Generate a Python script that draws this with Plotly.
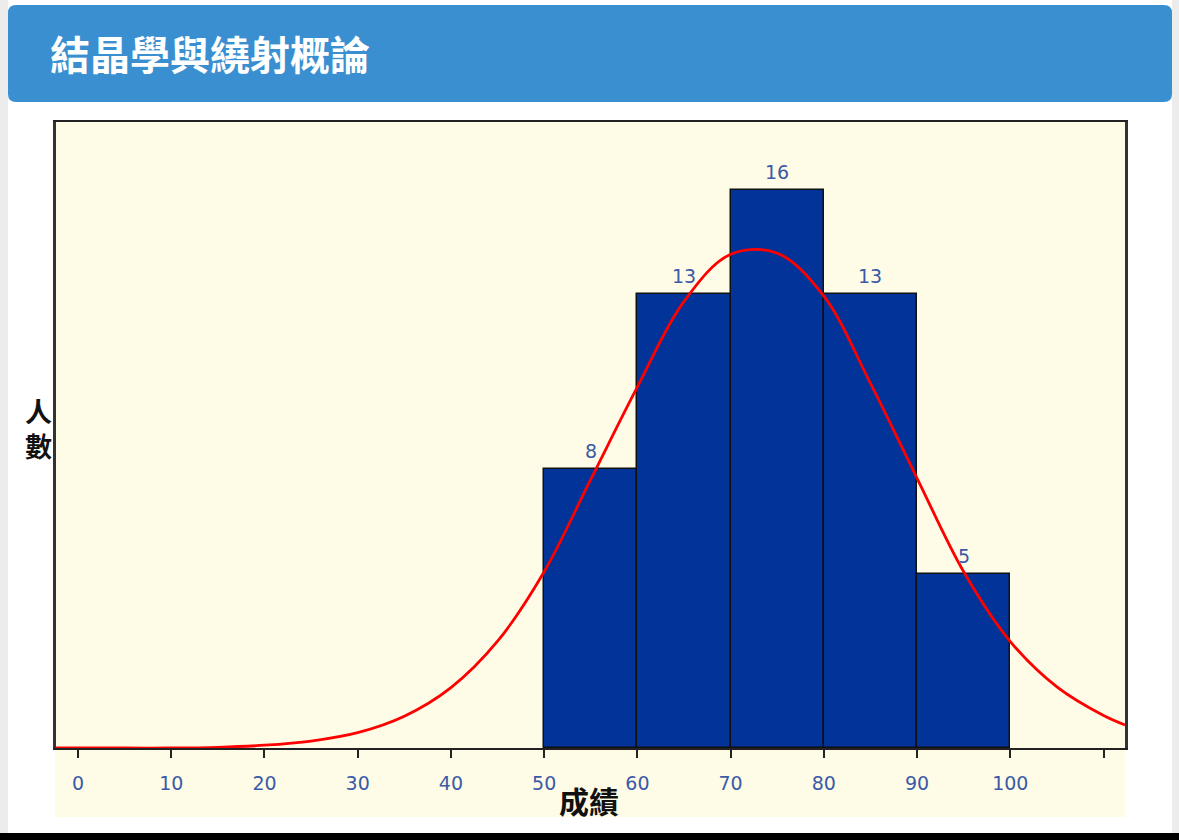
import plotly.graph_objects as go

# ---------------- data ----------------
title_text = "結晶學與繞射概論"
bin_left = [50, 60, 70, 80, 90]
bin_width = 10
counts = [8, 13, 16, 13, 5]

curve_x = [-2.4, 0, 5, 10, 15, 20, 25, 30, 35, 40, 45, 50, 55, 60, 65, 70, 75,
           80, 85, 90, 95, 100, 105, 110, 112.3]
curve_y = [0, 0, 0, 0, 0.02, 0.08, 0.2, 0.44, 0.91, 1.73, 3.06, 5.05, 7.7, 10.35,
           12.8, 14.15, 14.18, 12.95, 10.45, 7.73, 5.05, 3.05, 1.75, 0.93, 0.66]

tick_vals = [0, 10, 20, 30, 40, 50, 60, 70, 80, 90, 100, 110]
tick_text = ["0", "10", "20", "30", "40", "50", "60", "70", "80", "90", "100", ""]

x_title = "成績"
y_title = "人<br>數"

# ---------------- layout constants ----------------
W, H = 1179, 840
L, R, T, B = 56, 54, 122, 92
PW, PH = W - L - R, H - T - B


def px(xp):
    return (xp - L) / PW


def py(yp):
    return (H - B - yp) / PH


CJK = "Noto Sans CJK TC, Noto Sans CJK SC, sans-serif"
NUM_FONT = "DejaVu Sans, Verdana, sans-serif"
LABEL_BLUE = "#3a5aa8"
CREAM = "#fefce6"

bar_x = [b + bin_width / 2 for b in bin_left]

fig = go.Figure()
fig.add_trace(go.Bar(
    x=bar_x, y=counts, width=[bin_width] * len(counts),
    marker=dict(color="#023399", line=dict(color="#111111", width=1.5)),
    hoverinfo="x+y", showlegend=False,
))
fig.add_trace(go.Scatter(
    x=curve_x, y=curve_y, mode="lines",
    line=dict(color="#ff0000", width=2.8, shape="spline", smoothing=1.0),
    showlegend=False, hoverinfo="skip", cliponaxis=False,
))

annotations = []
for xv, cv in zip(bar_x, counts):
    annotations.append(dict(
        x=xv, y=cv, xref="x", yref="y", text=str(cv), showarrow=False,
        yshift=18, yanchor="middle",
        font=dict(family=NUM_FONT, size=19, color=LABEL_BLUE),
    ))

# header title
annotations.append(dict(
    x=px(48), y=py(53), xref="paper", yref="paper", text="<b>" + title_text + "</b>",
    showarrow=False, xanchor="left", yanchor="middle",
    font=dict(family=CJK, size=40, color="#ffffff"),
))
# axis titles
annotations.append(dict(
    x=px(589), y=py(800), xref="paper", yref="paper", text="<b>" + x_title + "</b>",
    showarrow=False, xanchor="center", yanchor="middle",
    font=dict(family=CJK, size=30, color="#111111"),
))
annotations.append(dict(
    x=px(38), y=py(428), xref="paper", yref="paper", text="<b>" + y_title + "</b>",
    showarrow=False, xanchor="center", yanchor="middle",
    font=dict(family=CJK, size=27, color="#111111"),
))

r = 8
x0, x1, y0, y1 = 8, 1172, 5, 102
header_path = (
    f"M {px(x0 + r)},{py(y0)} L {px(x1 - r)},{py(y0)} "
    f"Q {px(x1)},{py(y0)} {px(x1)},{py(y0 + r)} "
    f"L {px(x1)},{py(y1 - r)} Q {px(x1)},{py(y1)} {px(x1 - r)},{py(y1)} "
    f"L {px(x0 + r)},{py(y1)} Q {px(x0)},{py(y1)} {px(x0)},{py(y1 - r)} "
    f"L {px(x0)},{py(y0 + r)} Q {px(x0)},{py(y0)} {px(x0 + r)},{py(y0)} Z"
)

shapes = [
    dict(type="rect", xref="paper", yref="paper", x0=px(0), x1=px(8), y0=py(840), y1=py(0),
         fillcolor="#ececec", line=dict(width=0), layer="below"),
    dict(type="rect", xref="paper", yref="paper", x0=px(1172), x1=px(1179), y0=py(840), y1=py(0),
         fillcolor="#ececec", line=dict(width=0), layer="below"),
    dict(type="path", xref="paper", yref="paper", path=header_path,
         fillcolor="#3a8fd0", line=dict(width=0), layer="below"),
    dict(type="rect", xref="paper", yref="paper", x0=px(55), x1=px(1125), y0=py(817), y1=py(748),
         fillcolor=CREAM, line=dict(width=0), layer="below"),
    dict(type="rect", xref="paper", yref="paper", x0=px(0), x1=px(1179), y0=py(840), y1=py(833),
         fillcolor="#000000", line=dict(width=0), layer="below"),
]

fig.update_layout(
    width=W, height=H, autosize=False,
    margin=dict(l=L, r=R, t=T, b=B, pad=0),
    paper_bgcolor="#ffffff", plot_bgcolor=CREAM,
    bargap=0, showlegend=False,
    annotations=annotations, shapes=shapes,
    xaxis=dict(
        range=[-2.36, 112.3], tickvals=tick_vals, ticktext=tick_text,
        ticks="outside", ticklen=8, tickwidth=2, tickcolor="#222222",
        showgrid=False, zeroline=False,
        showline=True, linecolor="#222222", linewidth=2, mirror=True,
        tickfont=dict(family=NUM_FONT, size=19, color=LABEL_BLUE),
        ticklabelstandoff=9,
    ),
    yaxis=dict(
        range=[0, 17.94], showticklabels=False, ticks="",
        showgrid=False, zeroline=False,
        showline=True, linecolor="#333333", linewidth=2.5, mirror=True,
    ),
)

fig.write_html("out.html")
